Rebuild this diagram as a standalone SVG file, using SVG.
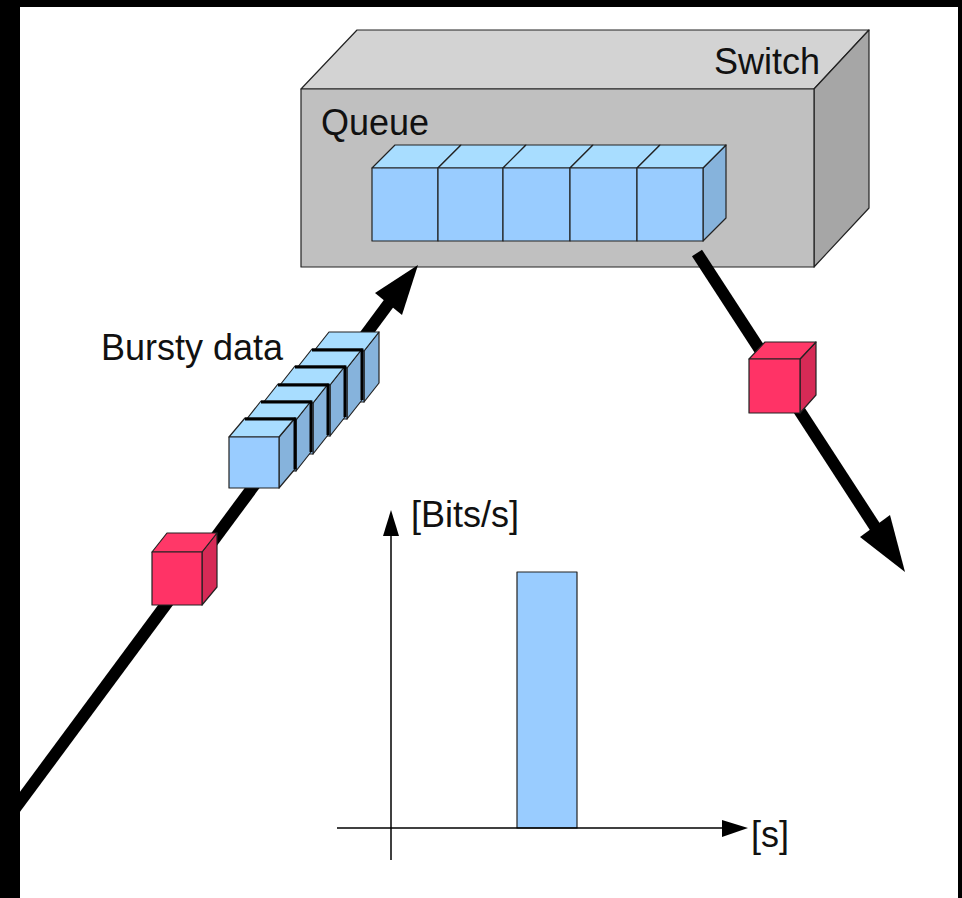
<svg xmlns="http://www.w3.org/2000/svg" width="962" height="898" viewBox="0 0 962 898">
  <style>
    .lbl { font-family: "Liberation Sans", Arial, sans-serif; font-size: 36px; fill: #111; }
    .edge { stroke: #222; stroke-width: 1.2; stroke-linejoin: round; }
    .bfront { fill: #99CCFF; }
    .btop { fill: #A8DDFF; }
    .bside { fill: #86B3DC; }
    .rfront { fill: #FF3366; }
    .rtop { fill: #FF3868; }
    .rside { fill: #D62A56; }
    .sep { stroke: #000; stroke-width: 3; fill: none; }
    .flow { stroke: #000; stroke-width: 12; fill: none; }
    .axis { stroke: #000; stroke-width: 1.5; fill: none; }
  </style>

  <!-- page background and dark frame -->
  <rect x="0" y="0" width="962" height="898" fill="#fff"/>

  <!-- switch housing -->
  <g id="switch">
    <polygon class="edge" fill="#D3D3D3" points="301,89 357,30 869,30 814,89"/>
    <polygon class="edge" fill="#A6A6A6" points="814,89 869,30 869,208 814,267"/>
    <rect class="edge" fill="#C0C0C0" x="301" y="89" width="513" height="178"/>
    <text class="lbl" x="820" y="74" text-anchor="end">Switch</text>
  </g>

  <!-- queue of buffered cells -->
  <g id="queue">
    <text class="lbl" x="321" y="135">Queue</text>
    <polygon class="edge bside" points="703,168 726,145 726,218 703,241"/>
    <polygon class="edge btop" points="372,168 395,145 461,145 438,168"/>
    <polygon class="edge btop" points="438,168 461,145 526,145 503,168"/>
    <polygon class="edge btop" points="503,168 526,145 593,145 570,168"/>
    <polygon class="edge btop" points="570,168 593,145 660,145 637,168"/>
    <polygon class="edge btop" points="637,168 660,145 726,145 703,168"/>
    <rect class="edge bfront" x="372" y="168" width="66" height="73"/>
    <rect class="edge bfront" x="438" y="168" width="65" height="73"/>
    <rect class="edge bfront" x="503" y="168" width="67" height="73"/>
    <rect class="edge bfront" x="570" y="168" width="67" height="73"/>
    <rect class="edge bfront" x="637" y="168" width="66" height="73"/>
  </g>

  <!-- data flow lines -->
  <g id="connectors">
    <line class="flow" x1="8" y1="818" x2="392" y2="299"/>
    <polygon fill="#000" points="418,265 375,293 402,315"/>
    <line class="flow" x1="697" y1="253" x2="877" y2="530" stroke-width="13"/>
    <polygon fill="#000" points="905,572 860,537 890,515"/>
  </g>

  <!-- burst of packets on the incoming link -->
  <g id="burst">
    <g transform="translate(314,351)">
      <polygon class="edge bside" points="50,0 65,-19 65,32 50,51"/>
      <polygon class="edge btop" points="0,0 15,-19 65,-19 50,0"/>
      <rect class="edge bfront" x="0" y="0" width="50" height="51"/>
    </g>
    <g transform="translate(297,368)">
      <polygon class="edge bside" points="50,0 65,-19 65,32 50,51"/>
      <polygon class="edge btop" points="0,0 15,-19 65,-19 50,0"/>
      <rect class="edge bfront" x="0" y="0" width="50" height="51"/>
      <polyline class="sep" points="15,-18 65,-18 65,32"/>
    </g>
    <g transform="translate(280,385)">
      <polygon class="edge bside" points="50,0 65,-19 65,32 50,51"/>
      <polygon class="edge btop" points="0,0 15,-19 65,-19 50,0"/>
      <rect class="edge bfront" x="0" y="0" width="50" height="51"/>
      <polyline class="sep" points="15,-18 65,-18 65,32"/>
    </g>
    <g transform="translate(263,403)">
      <polygon class="edge bside" points="50,0 65,-19 65,32 50,51"/>
      <polygon class="edge btop" points="0,0 15,-19 65,-19 50,0"/>
      <rect class="edge bfront" x="0" y="0" width="50" height="51"/>
      <polyline class="sep" points="15,-18 65,-18 65,32"/>
    </g>
    <g transform="translate(246,420)">
      <polygon class="edge bside" points="50,0 65,-19 65,32 50,51"/>
      <polygon class="edge btop" points="0,0 15,-19 65,-19 50,0"/>
      <rect class="edge bfront" x="0" y="0" width="50" height="51"/>
      <polyline class="sep" points="15,-18 65,-18 65,32"/>
    </g>
    <g transform="translate(229,437)">
      <polygon class="edge bside" points="50,0 66,-19 66,32 50,51"/>
      <polygon class="edge btop" points="0,0 16,-19 66,-19 50,0"/>
      <rect class="edge bfront" x="0" y="0" width="50" height="51"/>
      <polyline class="sep" points="16,-18 66,-18 66,32"/>
    </g>
    <text class="lbl" x="101" y="360">Bursty data</text>
  </g>

  <!-- single packet before the burst -->
  <g id="packet-in" transform="translate(152,552)">
    <polygon class="edge rside" points="50,0 65,-19 65,35 50,53"/>
    <polygon class="edge rtop" points="0,0 15,-19 65,-19 50,0"/>
    <rect class="edge rfront" x="0" y="0" width="50" height="53"/>
  </g>

  <!-- packet leaving the switch -->
  <g id="packet-out" transform="translate(749,359)">
    <polygon class="edge rside" points="51,0 67,-17 67,36 51,54"/>
    <polygon class="edge rtop" points="0,0 16,-17 67,-17 51,0"/>
    <rect class="edge rfront" x="0" y="0" width="51" height="54"/>
  </g>

  <!-- rate over time chart -->
  <g id="chart">
    <rect class="edge bfront" x="517" y="572" width="60" height="256"/>
    <line class="axis" x1="391" y1="860" x2="391" y2="532"/>
    <polygon fill="#000" points="391,510 383,536 399,536"/>
    <line class="axis" x1="337" y1="828" x2="725" y2="828"/>
    <polygon fill="#000" points="748,828 722,820 722,837"/>
    <text class="lbl" x="411" y="527">[Bits/s]</text>
    <text class="lbl" x="751" y="847">[s]</text>
  </g>

  <!-- frame -->
  <g id="frame" fill="#000">
    <rect x="0" y="0" width="962" height="7"/>
    <rect x="0" y="0" width="20" height="898"/>
    <rect x="958" y="0" width="4" height="898"/>
  </g>
</svg>
